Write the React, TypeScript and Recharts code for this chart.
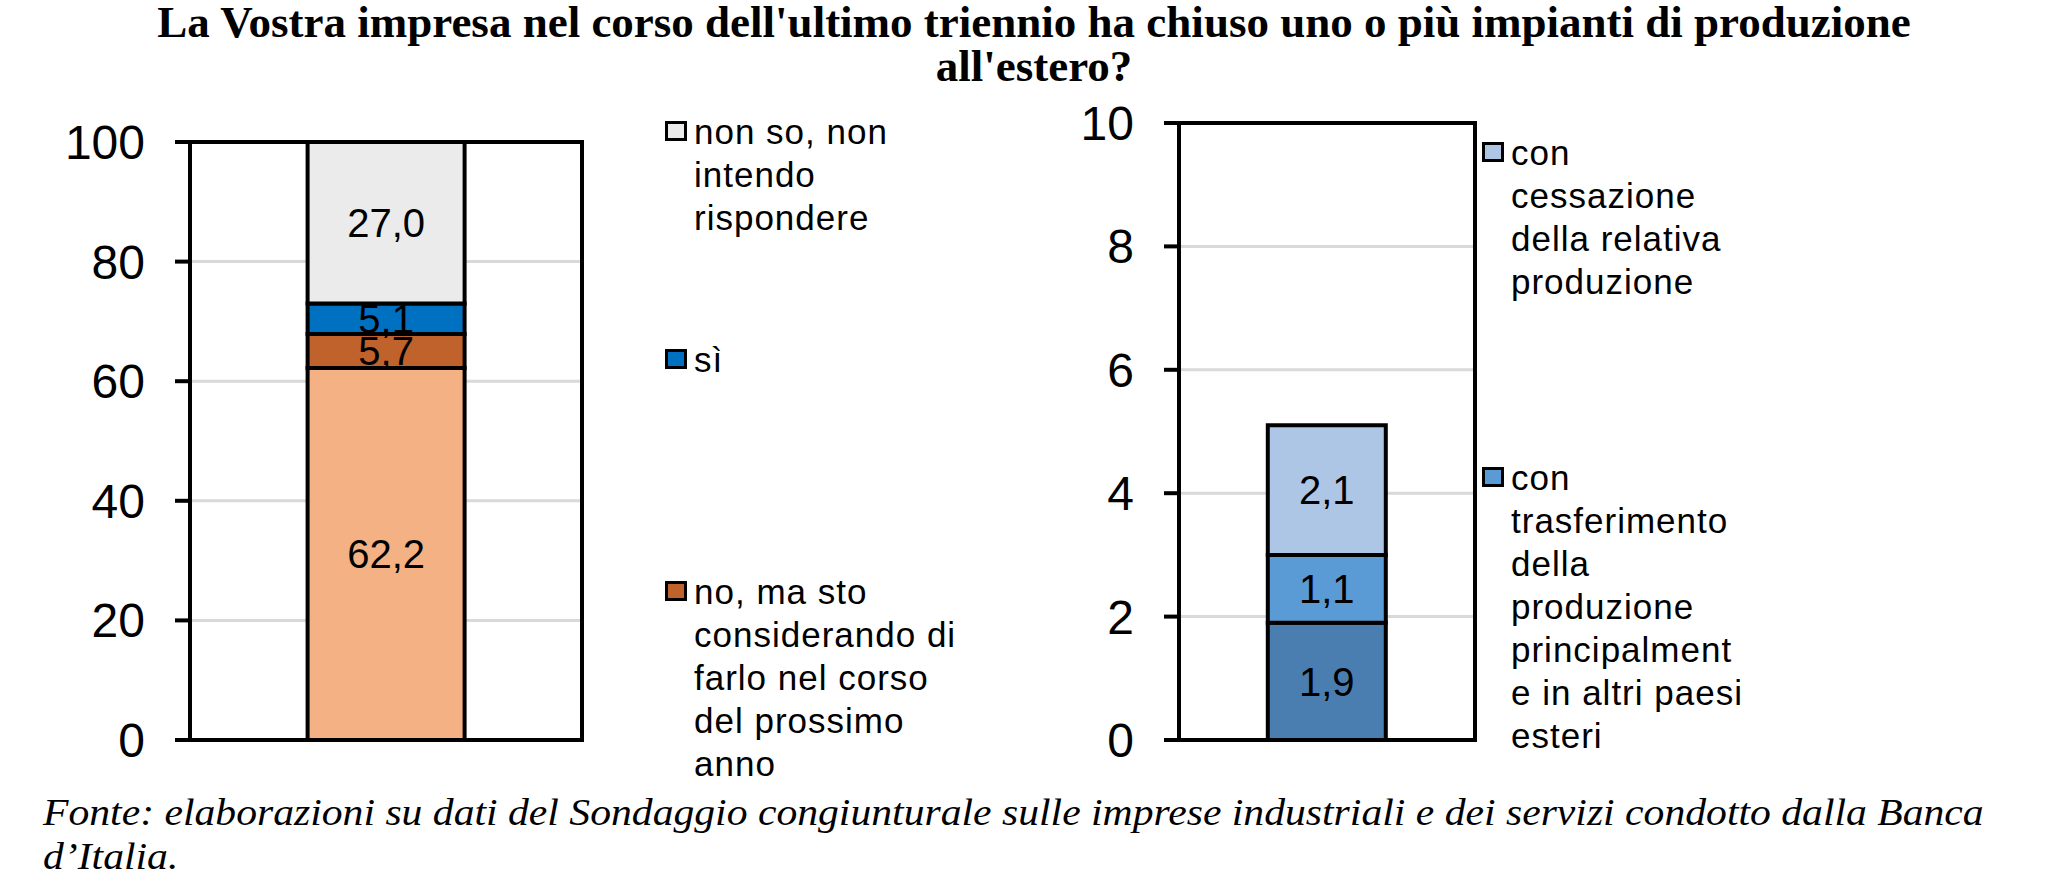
import React from 'react';
import { BarChart, Bar, XAxis, YAxis, CartesianGrid, ReferenceArea, LabelList } from 'recharts';

// ---- Text ----
const titleLines = [
  "La Vostra impresa nel corso dell'ultimo triennio ha chiuso uno o più impianti di produzione",
  "all'estero?",
];
const sourceLines = [
  'Fonte: elaborazioni su dati del Sondaggio congiunturale sulle imprese industriali e dei servizi condotto dalla Banca',
  'd’Italia.',
];

// ---- Left panel data (per cent) ----
const leftCategories = ['totale'];
const leftNo = [62.2];
const leftNoMaSto = [5.7];
const leftSi = [5.1];
const leftNonSo = [27.0];
const leftTicks = [0, 20, 40, 60, 80, 100];
const leftLegendLabels = [
  'non so, non\nintendo\nrispondere',
  'sì',
  'no, ma sto\nconsiderando di\nfarlo nel corso\ndel prossimo\nanno',
];

// ---- Right panel data (per cent) ----
const rightCategories = ['sì'];
const rightOther = [1.9];
const rightTransfer = [1.1];
const rightClosure = [2.1];
const rightTicks = [0, 2, 4, 6, 8, 10];
const rightLegendLabels = [
  'con\ncessazione\ndella relativa\nproduzione',
  'con\ntrasferimento\ndella\nproduzione\nprincipalment\ne in altri paesi\nesteri',
];

const leftData = leftCategories.map((c, i) => ({
  cat: c,
  no: leftNo[i],
  noMaSto: leftNoMaSto[i],
  si: leftSi[i],
  nonSo: leftNonSo[i],
}));

const rightData = rightCategories.map((c, i) => ({
  cat: c,
  other: rightOther[i],
  transfer: rightTransfer[i],
  closure: rightClosure[i],
}));

const COLORS = {
  no: '#F4B183',
  noMaSto: '#C0622B',
  si: '#0070C0',
  nonSo: '#EBEBEB',
  other: '#4A7DB0',
  transfer: '#5B9BD5',
  closure: '#ADC6E6',
};

const SANS = "'Liberation Sans', Arial, sans-serif";
const SERIF = "'Liberation Serif', 'Times New Roman', serif";

const fmt = (v: any) => Number(v).toFixed(1).replace('.', ',');

const tickStyle = { fontSize: 48, fill: '#000', fontFamily: SANS };
const labelStyle = { fontSize: 40, fontFamily: SANS };

function LegendItem({ color, label, x, y }: { color: string; label: string; x: number; y: number }) {
  return (
    <div style={{ position: 'absolute', left: x, top: y, display: 'flex', alignItems: 'flex-start' }}>
      <div
        style={{
          width: 16,
          height: 14,
          border: '3px solid #000',
          background: color,
          marginTop: 11,
          marginRight: 7,
          flex: 'none',
        }}
      />
      <div
        style={{
          whiteSpace: 'pre',
          fontSize: 35,
          lineHeight: '43px',
          letterSpacing: 1,
          fontFamily: SANS,
          color: '#000',
        }}
      >
        {label}
      </div>
    </div>
  );
}

function segment(key: string, name: string) {
  return (
    <Bar
      key={key}
      dataKey={key}
      name={name}
      stackId="a"
      fill={(COLORS as any)[key]}
      stroke="#000"
      strokeWidth={4}
      isAnimationActive={false}
    >
      <LabelList dataKey={key} position="center" formatter={fmt} fill="#000" style={labelStyle} />
    </Bar>
  );
}

export default function App() {
  return (
    <div style={{ position: 'absolute', left: 0, top: 0, width: 2068, height: 883, background: '#fff', overflow: 'hidden' }}>
      {/* Title */}
      <div
        style={{
          position: 'absolute',
          left: 0,
          top: 0,
          width: 2068,
          textAlign: 'center',
          fontFamily: SERIF,
          fontWeight: 'bold',
          fontSize: 45,
          lineHeight: '44px',
          color: '#000',
        }}
      >
        {titleLines.map((l, i) => (
          <div key={i}>{l}</div>
        ))}
      </div>

      {/* Left chart */}
      <div style={{ position: 'absolute', left: 0, top: 0 }}>
        <BarChart
          width={620}
          height={800}
          data={leftData}
          margin={{ top: 142, right: 38, bottom: 60, left: 0 }}
          barCategoryGap="30%"
        >
          <CartesianGrid horizontal vertical={false} stroke="#D9D9D9" strokeWidth={3} />
          <XAxis dataKey="cat" hide />
          <YAxis
            width={190}
            domain={[0, 100]}
            ticks={leftTicks}
            interval={0}
            tick={tickStyle}
            tickSize={15}
            tickMargin={30}
            tickLine={{ stroke: '#000', strokeWidth: 4 }}
            axisLine={{ stroke: '#000', strokeWidth: 4 }}
          />
          {segment('no', 'no')}
          {segment('noMaSto', 'no, ma sto considerando di farlo nel corso del prossimo anno')}
          {segment('si', 'sì')}
          {segment('nonSo', 'non so, non intendo rispondere')}
          <ReferenceArea y1={0} y2={100} fill="none" fillOpacity={0} stroke="#000" strokeWidth={4} />
        </BarChart>
      </div>

      {/* Left legend */}
      <LegendItem color={COLORS.nonSo} label={leftLegendLabels[0]} x={665} y={110} />
      <LegendItem color={COLORS.si} label={leftLegendLabels[1]} x={665} y={338} />
      <LegendItem color={COLORS.noMaSto} label={leftLegendLabels[2]} x={665} y={570} />

      {/* Right chart */}
      <div style={{ position: 'absolute', left: 1000, top: 0 }}>
        <BarChart
          width={520}
          height={800}
          data={rightData}
          margin={{ top: 123, right: 45, bottom: 60, left: 0 }}
          barCategoryGap="30%"
        >
          <CartesianGrid horizontal vertical={false} stroke="#D9D9D9" strokeWidth={3} />
          <XAxis dataKey="cat" hide />
          <YAxis
            width={179}
            domain={[0, 10]}
            ticks={rightTicks}
            interval={0}
            tick={tickStyle}
            tickSize={15}
            tickMargin={30}
            tickLine={{ stroke: '#000', strokeWidth: 4 }}
            axisLine={{ stroke: '#000', strokeWidth: 4 }}
          />
          {segment('other', 'altro')}
          {segment('transfer', 'con trasferimento della produzione principalmente in altri paesi esteri')}
          {segment('closure', 'con cessazione della relativa produzione')}
          <ReferenceArea y1={0} y2={10} fill="none" fillOpacity={0} stroke="#000" strokeWidth={4} />
        </BarChart>
      </div>

      {/* Right legend */}
      <LegendItem color={COLORS.closure} label={rightLegendLabels[0]} x={1482} y={131} />
      <LegendItem color={COLORS.transfer} label={rightLegendLabels[1]} x={1482} y={456} />

      {/* Source */}
      <div
        style={{
          position: 'absolute',
          left: 43,
          top: 790,
          fontFamily: SERIF,
          fontStyle: 'italic',
          fontSize: 38,
          lineHeight: '44px',
          color: '#000',
          whiteSpace: 'pre',
          transform: 'scaleX(1.096)',
          transformOrigin: 'left top',
        }}
      >
        {sourceLines.map((l, i) => (
          <div key={i}>{l}</div>
        ))}
      </div>
    </div>
  );
}
